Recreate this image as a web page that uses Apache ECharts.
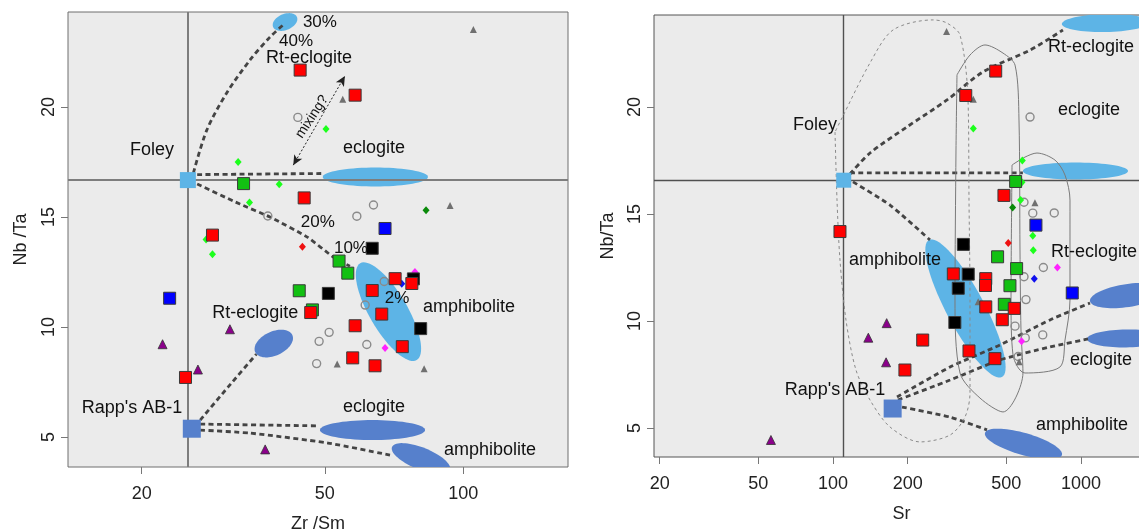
<!DOCTYPE html>
<html>
<head>
<meta charset="utf-8">
<script src="https://cdn.jsdelivr.net/npm/echarts@6/dist/echarts.min.js"></script>
<style>
  html, body { margin: 0; padding: 0; background: #fff; }
  #chart { width: 1139px; height: 530px; }
</style>
</head>
<body>
<div id="chart"></div>
<script>
// ---- axis ticks ----
const zrSmTicks = [20, 50, 100];
const srTicks = [20, 50, 100, 200, 500, 1000];
const nbTaTicks = [5, 10, 15, 20];

// ---- samples: [Zr/Sm, Sr, Nb/Ta]; null = not shown on that panel ----
const redSamples = [
  [44.2, 453, 21.68], [58.2, 343, 20.54], [45.1, 489, 15.87], [28.5, 106.7, 14.18],
  [71.1, 305.6, 12.2], [77.3, 413, 11.98], [63.4, 412, 11.66], [46.6, 413, 10.66],
  [66.5, 538, 10.59], [58.2, 481.5, 10.06], [73.7, 230, 9.11], [57.5, 353.5, 8.6],
  [64.3, 449.8, 8.24], [24.9, 195, 7.71]
];
const blackSamples = [[63.4, 335.5, 13.58], [77.9, 351, 12.19], [50.9, 320, 11.53], [80.8, 310, 9.93]];
const greenSamples = [[33.3, 545, 16.52], [53.7, 461, 13.0], [56.1, 550, 12.45], [44.0, 517, 11.65], [47.0, 490.6, 10.78]];
const blueSamples = [[67.6, 658, 14.48], [23.0, 922, 11.31]];
const limeDiamonds = [[50.3, 368, 19.0], [32.4, 580, 17.5], [39.8, 578, 16.49], [34.3, 571, 15.66], [27.6, 639, 13.98], [28.5, 642, 13.31]];
const darkGreenDiamonds = [[83.0, 530, 15.31]];
const redDiamonds = [[44.7, 509, 13.65]];
const blueDiamonds = [[73.5, 648, 11.97]];
const magentaDiamonds = [[78.5, 803, 12.5], [67.6, 576, 9.05]];
const greyCircles = [
  [43.7, 623, 19.53], [63.8, 589, 15.55], [58.7, 639, 15.04], [37.6, 780, 15.05],
  [67.3, 589, 12.07], [null, 705, 12.5], [61.2, 600, 11.0], [51.1, 542, 9.76],
  [48.6, 701, 9.35], [61.7, 596, 9.21], [48.0, 558, 8.34]
];
const greyTriangles = [[105.2, 287, 23.53], [54.7, 368, 20.36], [93.6, 652, 15.53], [53.2, null, 8.32], [82.2, 563, 8.1], [null, 385, 10.9]];
const purpleTriangles = [[22.2, 138.8, 9.22], [31.1, 164.6, 9.9], [26.5, 163.7, 8.07], [37.1, 56.2, 4.44]];

// ---- starting compositions (Foley, Rapp's AB-1) per panel: [x, Nb/Ta] ----
const zrSmStarts = [[25.2, 16.68], [25.7, 5.38]];
const srStarts = [[110.5, 16.58], [174, 5.91]];
const zrSmCross = [25.2, 16.68];
const srCross = [109.7, 16.59];

// ---- melt fields: long-axis ends [x1, Nb/Ta1, x2, Nb/Ta2] ----
const zrSmFields = [
  [38.6, 23.64, 43.5, 24.09],
  [49.5, 16.82, 83.8, 16.82],
  [59.7, 12.9, 79.2, 8.5],
  [35.3, 8.86, 42.5, 9.64],
  [48.8, 5.32, 82.6, 5.32],
  [70.0, 4.55, 93.6, 3.5]
];
const srFields = [
  [837, 23.88, 1897, 23.97],
  [583, 17.01, 1547, 17.01],
  [243.8, 13.79, 480, 7.38],
  [1087, 10.93, 2182, 11.45],
  [1057, 9.16, 2182, 9.21],
  [410, 4.77, 838, 3.74]
];

// ---- melting paths ----
const zrSmPaths = [
  [[25.9, 17.0], [27.7, 18.95], [30.6, 20.64], [34.4, 22.14], [38.0, 23.18], [40.6, 23.73]],
  [[26.4, 16.93], [49.5, 16.98]],
  [[26.4, 16.5], [32.7, 15.59], [38.0, 15.0], [45.8, 14.09], [52.2, 13.18], [56.7, 12.77]],
  [[26.8, 5.77], [30.8, 7.27], [35.5, 8.77]],
  [[26.8, 5.59], [48.4, 5.51]],
  [[26.8, 5.32], [34.4, 5.18], [50.8, 4.73], [69.3, 4.18]]
];
const srPaths = [
  [[117.1, 16.87], [141, 17.85], [198.8, 19.07], [288.2, 20.33], [402.6, 21.64], [622.8, 22.66], [845.6, 23.6]],
  [[117.1, 16.92], [583, 16.92]],
  [[120.4, 16.5], [169.7, 15.42], [246, 13.79]],
  [[181.2, 6.45], [296.4, 7.85], [471, 8.88], [750, 10.05], [1087, 10.84]],
  [[182.8, 6.31], [296.4, 7.24], [471, 8.18], [750, 8.79], [1067, 9.16]],
  [[189.8, 5.98], [296.4, 5.51], [417.8, 4.91]]
];
const zrSmMixing = [[42.7, 17.36], [55.3, 21.41]];

// ---- sample field outlines on the Sr panel ----
const srDashedField = [
  [101.9, 18.83], [103.8, 15.65], [106.7, 12.85], [112.8, 10.05], [123.8, 7.71], [141, 6.31],
  [169.7, 5.05], [224.3, 4.35], [296.4, 4.67], [340.5, 5.51], [356.8, 6.64], [356.8, 10.98],
  [353.5, 15.65], [350.3, 20.33], [325.2, 23.36], [287.4, 23.93], [253, 24.07], [174.6, 23.6],
  [141, 22.06], [108.7, 19.49], [101.9, 18.83]
];
const srFieldA = [
  [316.2, 21.5], [356.8, 22.43], [410.1, 22.9], [484.7, 22.52], [542, 21.96], [562.3, 19.39],
  [567.5, 13.32], [572.8, 9.58], [583.4, 7.57], [484.7, 5.75], [391.4, 6.4], [325.2, 7.57],
  [310.4, 10.98], [313.3, 17.99], [316.2, 21.5]
];
const srFieldB = [
  [527.1, 17.29], [594.5, 17.66], [664.5, 17.85], [785.3, 17.52], [862, 16.82], [902.8, 15.65],
  [902.8, 10.98], [862, 9.11], [822.5, 7.85], [594.5, 7.57], [532, 8.41], [522.2, 10.98], [527.1, 17.29]
];

// ---- annotations: [text, x, Nb/Ta] ----
const zrSmNotes = [
  ['Foley', 21.05, 18.05], ["Rapp's AB-1", 19.05, 6.32], ['Rt-eclogite', 46.2, 22.23],
  ['30%', 48.8, 23.86], ['40%', 43.3, 23.0], ['eclogite', 64.0, 18.14], ['20%', 48.3, 14.77],
  ['10%', 57.0, 13.59], ['2%', 71.8, 11.32], ['amphibolite', 102.9, 10.91],
  ['Rt-eclogite', 35.3, 10.64], ['eclogite', 64.0, 6.36], ['amphibolite', 114.3, 4.41],
  ['mixing?', 46.9, 19.56]
];
const srNotes = [
  ['Foley', 84.6, 19.16], ["Rapp's AB-1", 101.9, 6.78], ['Rt-eclogite', 1097, 22.8],
  ['eclogite', 1077, 19.86], ['Rt-eclogite', 1128, 13.22], ['amphibolite', 177.8, 12.85],
  ['eclogite', 1204, 8.18], ['amphibolite', 1009, 5.14]
];

// ---------------- styling ----------------
const FONT = '"Liberation Sans", Arial, Helvetica, sans-serif';
const LIGHT = '#5db4e6';
const DARK = '#5680cc';
const fieldLooks = [
  [{ r: 8, fill: LIGHT }, { r: 9.5, fill: LIGHT }, { r: 19, fill: LIGHT }, { r: 12, fill: DARK }, { r: 10, fill: DARK }, { r: 11, fill: DARK }],
  [{ r: 9, fill: LIGHT }, { r: 8.5, fill: LIGHT }, { r: 19, fill: LIGHT }, { r: 11.5, fill: DARK }, { r: 9, fill: DARK }, { r: 11, fill: DARK }]
];
const noteLooks = {
  '30%': { size: 17 }, '40%': { size: 17 }, '20%': { size: 17 }, '10%': { size: 17 }, '2%': { size: 17 },
  'mixing?': { size: 14, angle: 57 }
};

function onPanel(panel, rows) {
  return rows.filter(r => r[panel] != null).map(r => [r[panel], r[2]]);
}

function fieldSeries(panel, ends) {
  const looks = fieldLooks[panel];
  return {
    type: 'custom', xAxisIndex: panel, yAxisIndex: panel, clip: true, z: 2, silent: true,
    data: ends, encode: { x: [0, 2], y: [1, 3] },
    renderItem(params, api) {
      const look = looks[params.dataIndex];
      const a = api.coord([api.value(0), api.value(1)]);
      const b = api.coord([api.value(2), api.value(3)]);
      const cx = (a[0] + b[0]) / 2, cy = (a[1] + b[1]) / 2;
      const ra = Math.hypot(b[0] - a[0], b[1] - a[1]) / 2, rb = look.r;
      const th = Math.atan2(b[1] - a[1], b[0] - a[0]);
      const c = Math.cos(th), s = Math.sin(th);
      const pts = [];
      for (let k = 0; k < 72; k++) {
        const t = k / 72 * Math.PI * 2;
        const ex = ra * Math.cos(t), ey = rb * Math.sin(t);
        pts.push([cx + ex * c - ey * s, cy + ex * s + ey * c]);
      }
      return { type: 'polygon', shape: { points: pts }, style: { fill: look.fill } };
    }
  };
}

function pathSeries(panel, pts, lineStyle, smooth, z) {
  return {
    type: 'line', xAxisIndex: panel, yAxisIndex: panel, data: pts, symbol: 'none',
    showSymbol: false, smooth: smooth || 0, silent: true, z: z || 4, lineStyle
  };
}

function markerSeries(panel, rows, symbol, size, itemStyle, z) {
  return {
    type: 'scatter', xAxisIndex: panel, yAxisIndex: panel, data: onPanel(panel, rows),
    symbol, symbolSize: size, itemStyle: Object.assign({ opacity: 1 }, itemStyle), z, silent: true
  };
}

function noteSeries(panel, notes) {
  return {
    type: 'custom', xAxisIndex: panel, yAxisIndex: panel, z: 20, silent: true, clip: false,
    data: notes.map(n => [n[1], n[2]]), encode: { x: 0, y: 1 },
    renderItem(params, api) {
      const text = notes[params.dataIndex][0];
      const look = noteLooks[text] || {};
      const p = api.coord([api.value(0), api.value(1)]);
      return {
        type: 'text', x: p[0], y: p[1], rotation: (look.angle || 0) * Math.PI / 180,
        style: { text, fill: '#111', font: (look.size || 18) + 'px ' + FONT, align: 'center', verticalAlign: 'middle' }
      };
    }
  };
}

function crossSeries(panel, cross, color, width) {
  return {
    type: 'line', xAxisIndex: panel, yAxisIndex: panel, data: [cross], symbol: 'none',
    showSymbol: false, silent: true, z: 3,
    markLine: {
      silent: true, symbol: ['none', 'none'], label: { show: false }, animation: false,
      lineStyle: { color, width, type: 'solid' },
      data: [{ xAxis: cross[0] }, { yAxis: cross[1] }]
    }
  };
}

const pathStyle = { color: '#444', width: 2.8, type: [5, 3.5], cap: 'butt' };
const sq = (fill) => ({ color: fill, borderColor: '#3a3a3a', borderWidth: 1 });

function panelSeries(panel, fields, paths, starts, cross, notes) {
  const list = [];
  list.push(fieldSeries(panel, fields));
  list.push(crossSeries(panel, cross, panel === 0 ? '#7d7d7d' : '#505050', panel === 0 ? 2 : 1.4));
  paths.forEach((p, i) => list.push(pathSeries(panel, p, pathStyle, i === 0 ? 0.3 : 0.2)));
  list.push(markerSeries(panel, greyCircles, 'circle', 8, { color: 'rgba(0,0,0,0)', borderColor: '#8a8a8a', borderWidth: 1.4 }, 10));
  list.push(markerSeries(panel, greyTriangles, 'triangle', 7, { color: '#707070' }, 11));
  list.push(markerSeries(panel, purpleTriangles, 'triangle', 9, { color: '#8b008b', borderColor: '#333', borderWidth: 0.8 }, 12));
  list.push(markerSeries(panel, limeDiamonds, 'diamond', [7, 8], { color: '#1cff1c' }, 13));
  list.push(markerSeries(panel, darkGreenDiamonds, 'diamond', [7, 8], { color: '#0a8a0a' }, 13));
  list.push(markerSeries(panel, redDiamonds, 'diamond', [7, 8], { color: '#ee1111' }, 13));
  list.push(markerSeries(panel, blueDiamonds, 'diamond', [7, 8], { color: '#1010ee' }, 13));
  list.push(markerSeries(panel, magentaDiamonds, 'diamond', [7, 8], { color: '#ff22ff' }, 13));
  list.push(markerSeries(panel, blackSamples, 'rect', 12, sq('#000000'), 14));
  list.push(markerSeries(panel, greenSamples, 'rect', 12, sq('#12c012'), 15));
  list.push(markerSeries(panel, redSamples, 'rect', 12, sq('#ff0000'), 16));
  list.push(markerSeries(panel, blueSamples, 'rect', 12, sq('#0000ff'), 17));
  list.push({
    type: 'scatter', xAxisIndex: panel, yAxisIndex: panel, silent: true, z: 18, symbol: 'rect',
    data: [
      { value: starts[0], symbolSize: panel === 0 ? 16 : 15, itemStyle: { color: LIGHT, opacity: 1 } },
      { value: starts[1], symbolSize: 18, itemStyle: { color: DARK, opacity: 1 } }
    ]
  });
  list.push(noteSeries(panel, notes));
  return list;
}

const series = [
  ...panelSeries(0, zrSmFields, zrSmPaths, zrSmStarts, zrSmCross, zrSmNotes),
  ...panelSeries(1, srFields, srPaths, srStarts, srCross, srNotes),
  pathSeries(1, srDashedField, { color: '#8a8a8a', width: 1, type: [3, 3] }, 0.3, 5),
  pathSeries(1, srFieldA, { color: '#7a7a7a', width: 1, type: 'solid' }, 0.3, 5),
  pathSeries(1, srFieldB, { color: '#7a7a7a', width: 1, type: 'solid' }, 0.3, 5),
  {
    type: 'line', xAxisIndex: 0, yAxisIndex: 0, data: [], silent: true, z: 6,
    markLine: {
      silent: true, animation: false, symbol: ['arrow', 'arrow'], symbolSize: [7, 10],
      label: { show: false }, lineStyle: { color: '#222', width: 1, type: [2, 2] },
      data: [[{ coord: zrSmMixing[0] }, { coord: zrSmMixing[1] }]]
    }
  }
];

const textStyle = { fontFamily: FONT, fontSize: 18, color: '#222' };
function xAxisOf(panel, min, max, ticks, name) {
  return {
    gridIndex: panel, type: 'log', logBase: 10, min, max,
    name, nameLocation: 'middle', nameGap: 48, nameTextStyle: textStyle,
    axisLine: { show: false }, splitLine: { show: false }, minorTick: { show: false },
    axisTick: { show: true, length: 7, customValues: ticks, lineStyle: { color: '#777', width: 1 } },
    axisLabel: { customValues: ticks, margin: 18, fontFamily: FONT, fontSize: 18, color: '#222', formatter: v => String(Math.round(v)) }
  };
}
function yAxisOf(panel, min, max, name, gap) {
  return {
    gridIndex: panel, type: 'value', min, max,
    name, nameLocation: 'middle', nameGap: gap, nameTextStyle: textStyle,
    axisLine: { show: false }, splitLine: { show: false },
    axisTick: { show: true, length: 7, customValues: nbTaTicks, lineStyle: { color: '#777', width: 1 } },
    axisLabel: { customValues: nbTaTicks, rotate: 90, margin: 10, fontFamily: FONT, fontSize: 18, color: '#222' }
  };
}

const chart = echarts.init(document.getElementById('chart'), null, { renderer: 'canvas' });
chart.setOption({
  animation: false,
  backgroundColor: '#ffffff',
  grid: [
    { left: 68, top: 12, width: 500, height: 455, show: true, backgroundColor: '#ebebeb', borderColor: '#6e6e6e', borderWidth: 1, outerBoundsMode: 'none', containLabel: false },
    { left: 654, top: 15, width: 495, height: 442, show: true, backgroundColor: '#ebebeb', borderColor: '#555', borderWidth: 1, outerBoundsMode: 'none', containLabel: false }
  ],
  xAxis: [
    xAxisOf(0, 13.83, 168.9, zrSmTicks, 'Zr /Sm'),
    xAxisOf(1, 18.98, 1880, srTicks, 'Sr')
  ],
  yAxis: [
    yAxisOf(0, 3.64, 24.32, 'Nb /Ta', 38),
    yAxisOf(1, 3.645, 24.3, 'Nb/Ta', 37)
  ],
  series
});
</script>
</body>
</html>
